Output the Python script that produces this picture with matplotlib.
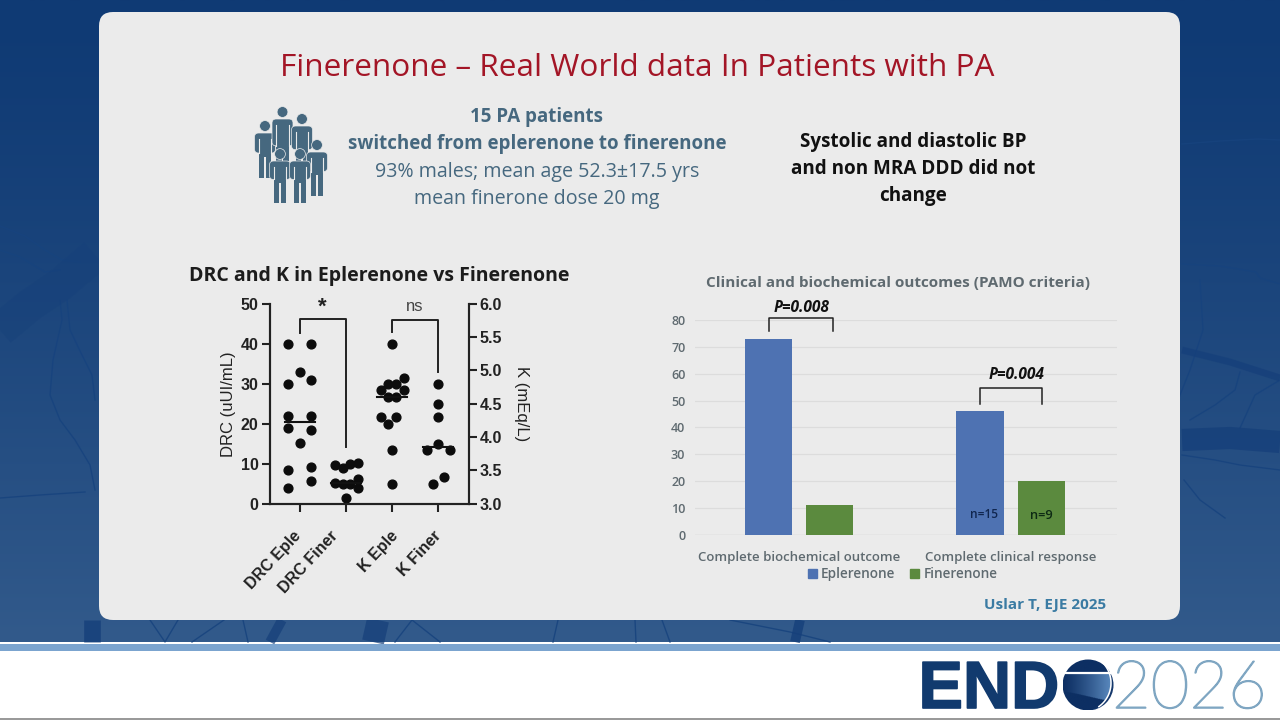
import numpy as np
import matplotlib
matplotlib.use("Agg")
import matplotlib.pyplot as plt
import matplotlib.patheffects as pe
from matplotlib.patches import FancyBboxPatch, Rectangle, Circle, Patch

# left chart, values
drc_eple = [40, 40, 33, 31, 30, 22, 22, 19, 18.5, 15.3, 9.2, 8.5, 5.8, 4]
drc_eple_jitter = [-0.25, 0.25, 0, 0.25, -0.25, -0.25, 0.25, -0.25, 0.25, 0, 0.25, -0.25, 0.25, -0.25]
drc_finer = [9.8, 9, 10, 10.2, 5.2, 5, 5, 6.2, 4, 1.5]
drc_finer_jitter = [-0.24, -0.07, 0.09, 0.26, -0.24, -0.07, 0.09, 0.26, 0.26, 0]
k_eple = [5.4, 4.89, 4.79, 4.79, 4.7, 4.7, 4.6, 4.6, 4.3, 4.3, 4.2, 3.8, 3.3]
k_eple_jitter = [0, 0.25, -0.08, 0.09, -0.25, 0.25, -0.08, 0.09, -0.25, 0.09, -0.08, 0, 0]
k_finer = [4.79, 4.5, 4.3, 3.9, 3.8, 3.8, 3.4, 3.3]
k_finer_jitter = [0, 0, 0, 0, -0.24, 0.25, 0.12, -0.12]
drc_medians = [20.4, 5.2]
k_medians = [4.6, 3.85]
scatter_labels = ["DRC Eple", "DRC Finer", "K Eple", "K Finer"]

# right chart
groups = ["Complete biochemical outcome", "Complete clinical response"]
eplerenone = [73, 46]
finerenone = [11, 20]

W, H = 1280, 720
DARK = "#222222"
PANEL = "#ebebeb"
TEAL = "#46687f"
GREY = "#5f6a70"
BLUE = "#4e72b2"
GREEN = "#5b8a3e"


def px_axes(fig, x0, y0, x1, y1):
    return fig.add_axes([x0 / W, 1 - y1 / H, (x1 - x0) / W, (y1 - y0) / H], facecolor="none")


def draw_person(ax, x, head_y, feet_y, w=21):
    col = "#46687f"
    h = feet_y - head_y
    sh = head_y + 7
    arm_end = head_y + 0.52 * h
    crotch = head_y + 0.55 * h
    ax.add_patch(Circle((x, head_y), 5.4, fc=col, ec=PANEL, lw=0.5, zorder=3))
    ax.add_patch(FancyBboxPatch((x - w / 2, sh), w, arm_end - sh, boxstyle="round,pad=0,rounding_size=4",
                                fc=col, ec=PANEL, lw=0.5, zorder=3))
    ax.add_patch(Rectangle((x - w * 0.3, sh + 2), w * 0.6, crotch - sh, fc=col, ec="none", zorder=3))
    ax.add_patch(Rectangle((x - w * 0.3, crotch), w * 0.26, feet_y - crotch, fc=col, ec="none", zorder=3))
    ax.add_patch(Rectangle((x + w * 0.04, crotch), w * 0.26, feet_y - crotch, fc=col, ec="none", zorder=3))
    # light gaps between arm and body
    for dx in (-w * 0.3, w * 0.3):
        ax.plot([x + dx, x + dx], [sh + 6, arm_end], color=PANEL, lw=0.8, zorder=3)


def draw_background(ax):
    # dark blue slide background with faint veins
    top = np.array([0x0f, 0x3a, 0x74]) / 255
    bot = np.array([0x32, 0x5a, 0x8b]) / 255
    t = np.linspace(0, 1, 256)[:, None, None] ** 1.3
    grad = top * (1 - t) + bot * t
    ax.imshow(grad, extent=[0, W, 642, 0], aspect="auto", zorder=0)
    vein = "#17437e"
    thin = [
        ([0, 25, 45, 62, 80], [226, 236, 250, 260, 262]),
        ([0, 20, 45, 60], [250, 257, 272, 270]),
        ([60, 62, 53, 50, 60, 75, 90, 95], [300, 320, 360, 395, 420, 440, 465, 490]),
        ([67, 70, 82, 92, 95], [300, 330, 355, 375, 400]),
        ([0, 40, 85], [498, 495, 492]),
        ([1182, 1220, 1258, 1280], [144, 141, 139, 140]),
        ([1182, 1220, 1256, 1260, 1280], [264, 266, 272, 278, 284]),
        ([1200, 1203, 1190, 1178], [280, 330, 370, 400]),
        ([1190, 1215, 1235, 1240], [420, 405, 390, 372]),
        ([1240, 1255, 1280], [428, 395, 380]),
        ([1182, 1215, 1240, 1280], [455, 460, 465, 470]),
        ([1184, 1200, 1225], [480, 500, 518]),
        ([150, 165, 178], [620, 642, 620]),
        ([224, 192], [620, 642]),
        ([243, 248], [620, 642]),
        ([395, 412, 440], [642, 620, 642]),
        ([553, 558], [642, 620]),
        ([635, 636], [620, 642]),
        ([662, 670], [620, 642]),
        ([730, 790, 830], [620, 632, 642]),
    ]
    for xs, ys in thin:
        ax.plot(xs, ys, color=vein, lw=1.0, alpha=0.85, zorder=1)
    thick = [
        ([0, 30, 60, 95], [330, 305, 285, 255], 24, 0.35),
        ([1182, 1230, 1280], [350, 362, 378], 5, 0.7),
        ([1182, 1230, 1280], [440, 438, 442], 16, 0.75),
        ([92, 92], [642, 620], 12, 0.8),
        ([270, 282], [642, 620], 7, 0.7),
        ([373, 378], [642, 620], 16, 0.7),
        ([795, 800], [642, 620], 7, 0.8),
    ]
    for xs, ys, lw, al in thick:
        ax.plot(xs, ys, color="#153f7a", lw=lw, alpha=al, solid_capstyle="butt", zorder=1)


def draw_logo(ax):
    ax.text(918.5, 708, "END", fontsize=48, fontweight="bold", family="Liberation Sans", color="#113a6e",
            ha="left", va="baseline",
            path_effects=[pe.withStroke(linewidth=1.2, foreground="#113a6e")])
    cx, cy, r = 1088, 685, 25.5
    # globe shading: light in the middle band, dark caps and right edge
    xx, yy = np.meshgrid(np.linspace(cx - r, cx + r, 128), np.linspace(cy - r, cy + r, 128))
    c0, c1 = np.array([0x0d, 0x2f, 0x63]) / 255, np.array([0x5f, 0x8f, 0xc4]) / 255
    g = np.clip((xx - cx + r) / (2 * r), 0, 1) ** 1.2
    g[yy < cy - 12] = 0
    g[yy > cy + 12 + 6 * np.sin((xx - cx) / r)] = 0
    g[(xx - cx + 6) ** 2 + (yy - cy + 2) ** 2 > 29 ** 2] = 0.1
    im = ax.imshow(c0 + (c1 - c0) * g[:, :, None], extent=[cx - r, cx + r, cy + r, cy - r], aspect="auto", zorder=2)
    im.set_clip_path(Circle((cx, cy), r, transform=ax.transData))
    ax.plot([cx - r, cx + r], [cy - 12, cy - 12], color="white", lw=1.6, zorder=3)
    th = np.linspace(-1.15, 0.95, 40)
    ax.plot(cx - 6 + 29 * np.cos(th), cy - 2 + 29 * np.sin(th), color="white", lw=1.1, zorder=3)
    ax.text(1112, 708, "2026", fontsize=48, family="Lato", fontweight="light", color="#7fa6c2",
            ha="left", va="baseline",
            path_effects=[pe.withStroke(linewidth=1.1, foreground="#7fa6c2")])


fig = plt.figure(figsize=(12.8, 7.2), dpi=100, facecolor="white")
bg = fig.add_axes([0, 0, 1, 1])
draw_background(bg)
draw_logo(bg)
bg.add_patch(Rectangle((0, 644), W, 6.5, fc="#7ba4cf", ec="none", zorder=2))
bg.add_patch(Rectangle((0, 718), W, 2, fc="#9a9a9a", ec="none", zorder=2))
bg.add_patch(FancyBboxPatch((99, 12), 1081, 608, boxstyle="round,pad=0,rounding_size=14", fc=PANEL, ec="none", zorder=2))
bg.set_xlim(0, W)
bg.set_ylim(H, 0)
bg.axis("off")

for px, hy, fy in [(265, 126, 178), (282.5, 112, 177), (302, 119, 178), (317, 145, 196), (280, 154, 203), (300, 154, 203)]:
    draw_person(bg, px, hy, fy)

# header texts
OS = "Open Sans"
bg.text(637, 67.5, "Finerenone – Real World data In Patients with PA", fontsize=22.65, family=OS, color="#a31526",
        ha="center", va="center", zorder=4)
bg.text(537, 117, "15 PA patients", fontsize=13.5, family=OS, fontweight="bold", color=TEAL, ha="center", va="center", zorder=4)
bg.text(537, 144, "switched from eplerenone to finerenone", fontsize=13.5, family=OS, fontweight="bold", color=TEAL, ha="center", va="center", zorder=4)
bg.text(537, 172, "93% males; mean age 52.3±17.5 yrs", fontsize=14.1, family=OS, color=TEAL, ha="center", va="center", zorder=4)
bg.text(537, 199, "mean finerone dose 20 mg", fontsize=14.1, family=OS, color=TEAL, ha="center", va="center", zorder=4)
for y, s in [(142, "Systolic and diastolic BP"), (169, "and non MRA DDD did not"), (196, "change")]:
    bg.text(913, y, s, fontsize=13.6, family=OS, fontweight="bold", color="#111111", ha="center", va="center", zorder=4)
bg.text(379, 276, "DRC and K in Eplerenone vs Finerenone", fontsize=14, family=OS, fontweight="bold", color="#1c1c1c",
        ha="center", va="center", zorder=4)
bg.text(898, 283, "Clinical and biochemical outcomes (PAMO criteria)", fontsize=11, family=OS, fontweight="bold", color=GREY,
        ha="center", va="center", zorder=4)
bg.text(1106, 605, "Uslar T, EJE 2025", fontsize=11, family=OS, fontweight="bold", color="#3a7ba3",
        ha="right", va="center", zorder=4)

# scatter panel, DRC on the left axis, K on the right axis
ax = px_axes(fig, 269.5, 303.7, 468.7, 503.7)
ax.set_xlim(-0.66, 3.66)
ax.set_ylim(0, 50)
ax.scatter(0 + np.array(drc_eple_jitter), drc_eple, s=40, color="#0c0c0c", zorder=3, clip_on=False)
ax.scatter(1 + np.array(drc_finer_jitter), drc_finer, s=40, color="#0c0c0c", zorder=3, clip_on=False)
for i, m in enumerate(drc_medians):
    ax.plot([i - 0.33, i + 0.33], [m, m], color="#111111", lw=1.5, zorder=3)
ax.plot([0, 0, 1, 1], [42.75, 46.2, 46.2, 14.25], color=DARK, lw=1.4, zorder=2)
ax.text(0.49, 49.2, "*", fontsize=16, fontweight="bold", ha="center", va="center", color=DARK, family="Liberation Sans")
ax.text(2.49, 49.2, "ns", fontsize=12, ha="center", va="center", color="#444444", family="Liberation Sans")
ax.set_yticks(range(0, 51, 10))
ax.set_xticks(range(4))
ax.set_xticklabels([])
# the labels do not sit evenly under their ticks in the original, so they are placed one by one
for i, (label, dx) in enumerate(zip(scatter_labels, [-7, -16, -2, -5.5])):
    ax.annotate(label, xy=(i, 0), xycoords=("data", "axes fraction"), xytext=(dx, -25), textcoords="offset pixels",
                rotation=47, ha="right", va="top", rotation_mode="anchor", fontsize=11.5,
                family="Liberation Sans", fontweight="bold", color=DARK, annotation_clip=False)
ax.set_ylabel("DRC (uUI/mL)", fontsize=12, family="Liberation Sans", color=DARK, labelpad=3)
ax.tick_params(axis="y", labelsize=11.5, width=1.5, length=6, color=DARK, labelcolor=DARK, pad=2)
ax.tick_params(axis="x", width=1.5, length=6, color=DARK, pad=12)
for lab in ax.get_yticklabels():
    lab.set_family("Liberation Sans")
    lab.set_fontweight("bold")

ax2 = ax.twinx()
ax2.set_ylim(3, 6)
ax2.scatter(2 + np.array(k_eple_jitter), k_eple, s=40, color="#0c0c0c", zorder=3, clip_on=False)
ax2.scatter(3 + np.array(k_finer_jitter), k_finer, s=40, color="#0c0c0c", zorder=3, clip_on=False)
for i, m in enumerate(k_medians):
    ax2.plot([i + 2 - 0.33, i + 2 + 0.33], [m, m], color="#111111", lw=1.5, zorder=3)
ax2.plot([2, 2, 3, 3], [5.58, 5.75, 5.75, 4.98], color=DARK, lw=1.4, zorder=2)
ax2.set_yticks(np.arange(3, 6.01, 0.5))
ax2.set_yticklabels(["3.0", "3.5", "4.0", "4.5", "5.0", "5.5", "6.0"], family="Liberation Sans", fontweight="bold")
ax2.set_ylabel("K (mEq/L)", fontsize=12, family="Liberation Sans", color=DARK, rotation=270, labelpad=19)
ax2.tick_params(axis="y", labelsize=11.5, width=1.5, length=6, color=DARK, labelcolor=DARK, pad=2)
for a in (ax, ax2):
    a.spines["top"].set_visible(False)
    for s in ("left", "right", "bottom"):
        a.spines[s].set_linewidth(1.5)
        a.spines[s].set_color(DARK)

# bar panel
bx = px_axes(fig, 695, 320, 1116.7, 534.7)
bx.set_xlim(-0.49, 1.5)
bx.set_ylim(0, 80)
x = np.arange(len(groups))
bar_w = 0.224
b1 = bx.bar(x - 0.144, eplerenone, bar_w, color=BLUE, label="Eplerenone", zorder=2)
b2 = bx.bar(x + 0.144, finerenone, bar_w, color=GREEN, label="Finerenone", zorder=2)
bx.yaxis.grid(True, color="#dcdcdc", lw=0.9, zorder=0)
bx.set_axisbelow(True)
bx.set_yticks(range(0, 81, 10))
bx.set_xticks(x)
bx.set_xticklabels(groups, fontsize=9.5, family=OS, fontweight="semibold", color=GREY)
bx.tick_params(axis="x", length=0, pad=12)
bx.tick_params(axis="y", length=0, labelsize=9, labelcolor=GREY, pad=7)
for lab in bx.get_yticklabels():
    lab.set_family(OS)
    lab.set_fontweight("semibold")
for s in bx.spines.values():
    s.set_visible(False)
bx.axhline(0, color="#d0d0d0", lw=0.9, zorder=1)
bx.legend(handles=[Patch(color=BLUE, label="Eplerenone"), Patch(color=GREEN, label="Finerenone")], ncol=2,
          loc="upper left", bbox_to_anchor=(0.268, -0.15), frameon=False, handlelength=0.66, handleheight=0.66,
          handletextpad=0.3, columnspacing=1.1, borderaxespad=0, borderpad=0,
          prop={"family": OS, "size": 9.8, "weight": "semibold"}, labelcolor=GREY)

# significance brackets and n labels
bx.plot([-0.14, -0.14, 0.162, 0.162], [75.9, 80.8, 80.8, 75.9], color=DARK, lw=1.1, clip_on=False, zorder=3)
bx.plot([0.854, 0.854, 1.146, 1.146], [48.6, 54.6, 54.6, 48.6], color=DARK, lw=1.1, zorder=3)
bx.text(1.027, 59.5, "P=0.004", fontsize=11.2, family=OS, fontweight="bold", style="italic", color="#111111",
        ha="center", va="center")
bg.text(801.5, 308, "P=0.008", fontsize=11.2, family=OS, fontweight="bold", style="italic", color="#111111",
        ha="center", va="center", zorder=4)
bg.add_patch(Rectangle((768, 312), 68, 5, fc=PANEL, ec="none", zorder=5))
bx.text(0.873, 7.7, "n=15", fontsize=8.6, family=OS, fontweight="semibold", color="#10264f", ha="center", va="center", zorder=4)
bx.text(1.145, 7.3, "n=9", fontsize=9.2, family=OS, fontweight="semibold", color="#0d2a14", ha="center", va="center", zorder=4)

fig.savefig("out.png", dpi=100)
